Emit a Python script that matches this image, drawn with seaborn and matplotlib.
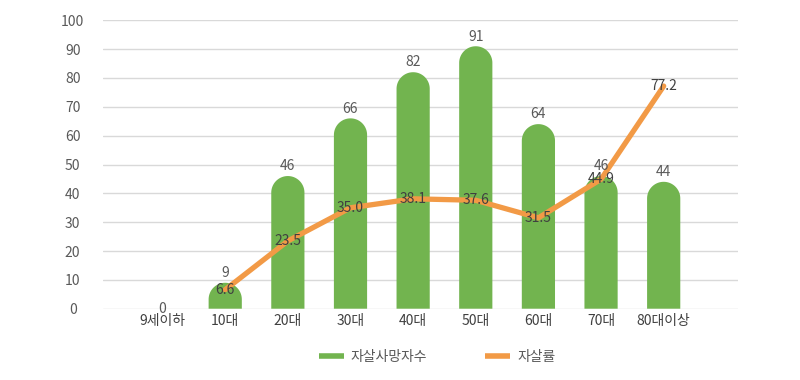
import numpy as np
import pandas as pd
import seaborn as sns
import matplotlib.pyplot as plt
from matplotlib.path import Path
from matplotlib.patches import PathPatch
from matplotlib.lines import Line2D

# 연령대별 자살사망자수 / 자살률
categories = ['9세이하', '10대', '20대', '30대', '40대', '50대', '60대', '70대', '80대이상']
deaths = [0, 9, 46, 66, 82, 91, 64, 46, 44]
rates = [np.nan, 6.6, 23.5, 35.0, 38.1, 37.6, 31.5, 44.9, 77.2]
y_ticks = [0, 10, 20, 30, 40, 50, 60, 70, 80, 90, 100]

GREEN = '#72B44F'
ORANGE = '#F29A46'
TXT = '#595959'

sns.set_theme(style='white')
plt.rcParams['font.family'] = ['Noto Sans CJK KR', 'DejaVu Sans']

df = pd.DataFrame({'연령대': categories, '자살사망자수': deaths,
                   '자살률': rates, 'pos': np.arange(len(categories))})

fig = plt.figure(figsize=(8, 3.8), dpi=100)
ax = fig.add_axes([0.129, 0.1876, 0.793, 0.759])

sns.barplot(data=df, x='연령대', y='자살사망자수', color=GREEN, width=0.53,
            saturation=1, ax=ax, zorder=2)
ax.set_xlim(-0.948, 9.18)
ax.set_ylim(0, 100)

# 막대 윗부분을 둥글게
fig.canvas.draw()
bb = ax.get_window_extent()
px_x = bb.width / (9.18 + 0.948)
px_y = bb.height / 100
for p in list(ax.patches):
    x0, w, h = p.get_x(), p.get_width(), p.get_height()
    p.remove()
    if h <= 0:
        continue
    rx = w / 2
    ry = rx * px_x / px_y
    cx = x0 + rx
    base = max(h - ry, 0)
    t = np.linspace(np.pi, 0, 40)
    arc = np.column_stack([cx + rx * np.cos(t), base + (h - base) * np.sin(t)])
    verts = np.vstack([[x0, 0], [x0, base], arc, [x0 + w, 0], [x0, 0]])
    ax.add_patch(PathPatch(Path(verts), facecolor=GREEN, edgecolor='none', zorder=2))

sns.lineplot(data=df.dropna(), x='pos', y='자살률', color=ORANGE, linewidth=3.8,
             ax=ax, zorder=3, solid_capstyle='round', solid_joinstyle='round')

for i, v in enumerate(deaths):
    ax.annotate(f'{v}', (i, v), xytext=(0, 7 if v > 0 else 0), textcoords='offset points',
                ha='center', va='center', fontsize=10, color=TXT, zorder=4)
for i, v in enumerate(rates):
    if np.isnan(v):
        continue
    ax.annotate(f'{v:.1f}', (i, v), ha='center', va='center', fontsize=10,
                color='#404040', zorder=4)

ax.set_yticks(y_ticks)
ax.yaxis.grid(True, color='#d9d9d9', linewidth=1, zorder=0)
ax.set_axisbelow(True)
for s in ax.spines.values():
    s.set_visible(False)
ax.set_xticks(range(len(categories)))
ax.set_xticklabels(categories)
ax.tick_params(axis='y', length=0, pad=22, labelsize=10, labelcolor=TXT)
ax.tick_params(axis='x', length=0, pad=4, labelsize=10, labelcolor='#404040')
for lbl in ax.get_yticklabels():
    lbl.set_ha('center')
ax.set_xlabel('')
ax.set_ylabel('')

handles = [Line2D([], [], color=GREEN, linewidth=4, solid_capstyle='butt'),
           Line2D([], [], color=ORANGE, linewidth=4, solid_capstyle='butt')]
fig.legend(handles, ['자살사망자수', '자살률'], loc='center',
           bbox_to_anchor=(437 / 800, 1 - 357 / 380), ncol=2, frameon=False,
           fontsize=10, labelcolor=TXT, handlelength=1.8, handletextpad=0.5,
           columnspacing=4.2)

fig.savefig('out.png', dpi=100)
